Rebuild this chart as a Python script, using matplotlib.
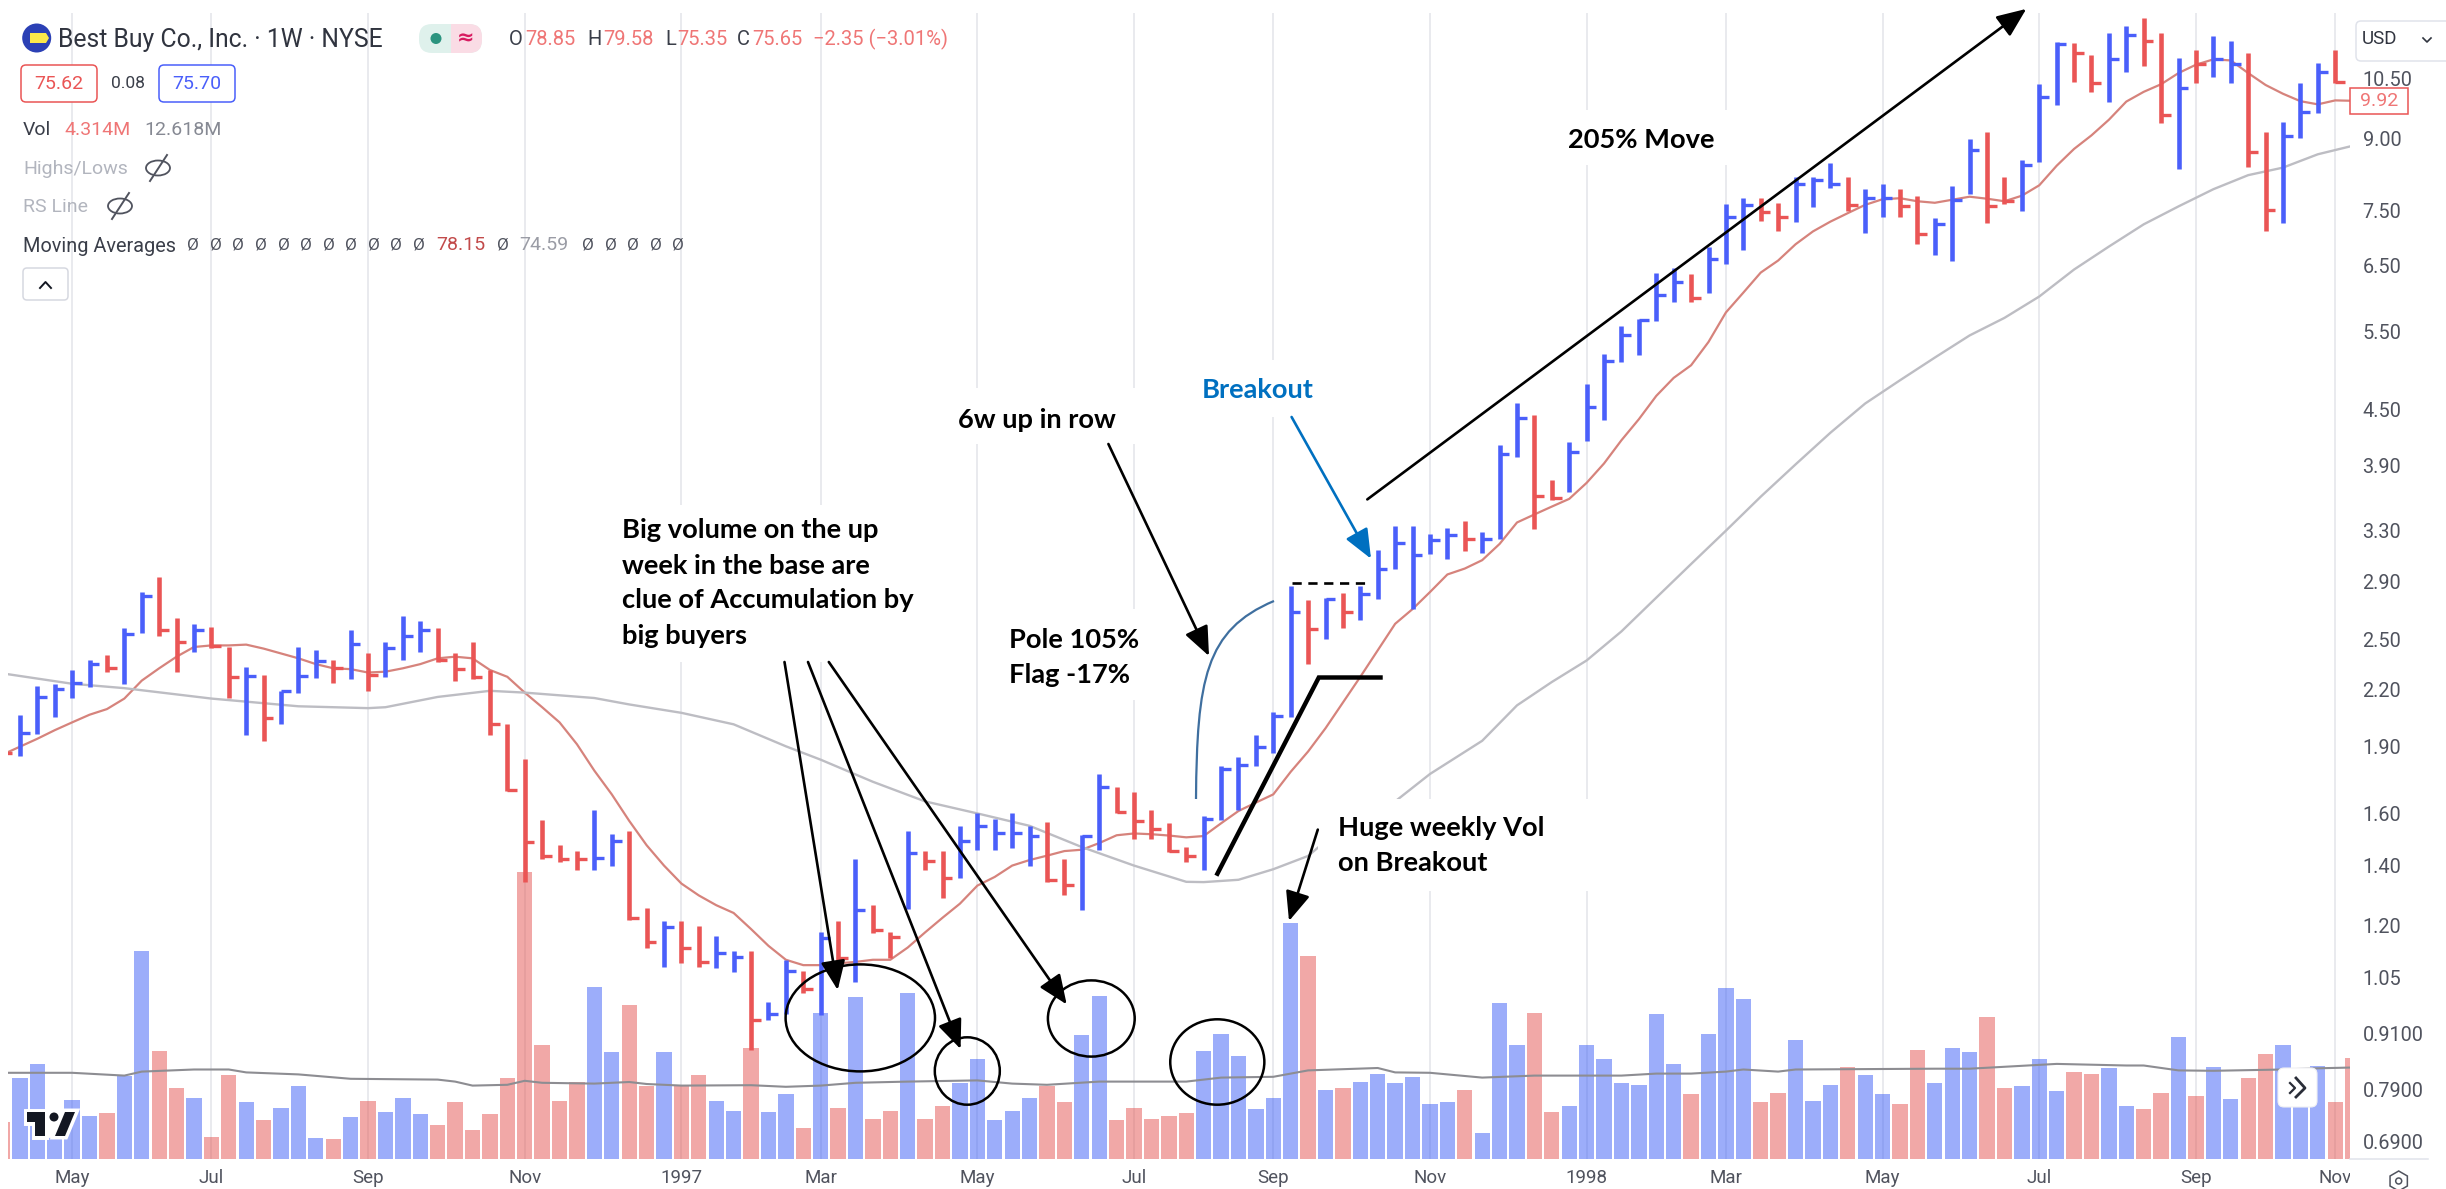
import numpy as np
import matplotlib
matplotlib.use("Agg")
import matplotlib.pyplot as plt
from matplotlib.patches import Ellipse, FancyBboxPatch, PathPatch, Polygon, Rectangle, RegularPolygon, Circle
from matplotlib.path import Path

plt.rcParams["font.family"] = ["Roboto", "DejaVu Sans"]

# Weekly HLC bars, first entry is the clipped bar left of May 1996
high = [1.90,
        2.06, 2.22, 2.23, 2.31, 2.37, 2.40, 2.57, 2.82, 2.93, 2.64,
        2.60, 2.58, 2.45, 2.33, 2.28, 2.19, 2.45, 2.43, 2.37, 2.56,
        2.41, 2.48, 2.65, 2.62, 2.57, 2.41, 2.48, 2.31, 2.01, 1.84,
        1.575, 1.475, 1.453, 1.616, 1.516, 1.528, 1.255, 1.216, 1.216, 1.198,
        1.17, 1.126, 1.126, .988, 1.10, 1.07, 1.182, 1.216, 1.422, 1.267,
        1.182, 1.531, 1.453, 1.453, 1.55, 1.60, 1.577, 1.60, 1.55, 1.565,
        1.422, 1.513, 1.768, 1.714, 1.691, 1.616, 1.56, 1.468, 1.589, 1.806,
        1.848, 1.955, 2.075, 2.863, 2.762, 2.776, 2.81, 2.863, 3.14, 3.34,
        3.34, 3.27, 3.32, 3.38, 3.29, 4.11, 4.58, 4.44, 3.76, 4.14,
        4.81, 5.19, 5.57, 5.67, 6.39, 6.47, 6.37, 6.82, 7.61, 7.74,
        7.74, 7.64, 8.17, 8.17, 8.45, 8.17, 7.92, 8.01, 7.92, 7.78,
        7.35, 7.98, 9.00, 9.15, 8.16, 8.52, 10.35, 11.53, 11.49, 11.14,
        11.81, 12.01, 12.27, 11.81, 11.06, 11.30, 11.72, 11.57, 11.22, 9.15,
        9.40, 10.38, 10.92, 11.30]
low = [1.85,
       1.852, 1.961, 2.05, 2.151, 2.213, 2.30, 2.23, 2.542, 2.52, 2.30,
       2.416, 2.446, 2.151, 1.957, 1.927, 2.01, 2.18, 2.264, 2.237, 2.26,
       2.19, 2.271, 2.367, 2.416, 2.355, 2.243, 2.26, 1.957, 1.696, 1.344,
       1.422, 1.412, 1.385, 1.385, 1.40, 1.217, 1.135, 1.08, 1.092, 1.08,
       1.078, 1.067, .873, .943, .957, 1.01, .954, 1.094, 1.04, 1.178,
       1.104, 1.253, 1.385, 1.29, 1.355, 1.456, 1.456, 1.466, 1.40, 1.344,
       1.298, 1.25, 1.456, 1.60, 1.50, 1.50, 1.45, 1.412, 1.385, 1.572,
       1.616, 1.808, 1.866, 2.05, 2.347, 2.50, 2.573, 2.624, 2.77, 2.995,
       2.70, 3.105, 3.07, 3.13, 3.115, 3.23, 3.98, 3.31, 3.57, 3.64,
       4.15, 4.38, 5.08, 5.17, 5.65, 5.93, 5.93, 6.07, 6.53, 6.77,
       7.29, 7.11, 7.27, 7.55, 7.94, 7.48, 7.08, 7.36, 7.36, 6.87,
       6.68, 6.59, 7.82, 7.25, 7.61, 7.48, 8.48, 9.82, 10.40, 10.15,
       9.90, 10.67, 10.84, 9.36, 8.33, 10.38, 10.54, 10.38, 8.37, 7.10,
       7.25, 9.03, 9.61, 10.38]
close = [1.87,
         1.968, 2.153, 2.198, 2.237, 2.347, 2.323, 2.533, 2.795, 2.556, 2.482,
         2.556, 2.454, 2.271, 2.276, 2.044, 2.19, 2.276, 2.362, 2.323, 2.467,
         2.28, 2.446, 2.52, 2.556, 2.367, 2.314, 2.271, 2.01, 1.70, 1.486,
         1.436, 1.422, 1.422, 1.426, 1.49, 1.225, 1.152, 1.195, 1.135, 1.094,
         1.12, 1.107, .943, .957, 1.07, 1.02, 1.164, 1.104, 1.25, 1.186,
         1.165, 1.445, 1.415, 1.355, 1.49, 1.55, 1.523, 1.523, 1.51, 1.35,
         1.332, 1.51, 1.714, 1.605, 1.569, 1.537, 1.453, 1.436, 1.577, 1.793,
         1.811, 1.896, 2.055, 2.682, 2.567, 2.77, 2.682, 2.807, 2.995, 3.195,
         3.10, 3.225, 3.26, 3.23, 3.23, 4.02, 4.40, 3.61, 3.59, 4.04,
         4.53, 5.09, 5.44, 5.66, 6.03, 6.24, 5.98, 6.62, 7.36, 7.60,
         7.47, 7.36, 8.01, 8.09, 8.02, 7.60, 7.73, 7.73, 7.58, 7.06,
         7.23, 7.70, 8.75, 7.58, 7.67, 8.41, 10.01, 11.46, 11.21, 10.38,
         11.04, 11.74, 11.57, 9.57, 10.26, 10.91, 11.04, 10.89, 8.69, 7.50,
         9.06, 9.65, 10.68, 10.42]
# weeks drawn red, the rest are blue
down_weeks = [-1, 5, 8, 9, 11, 12, 14, 18, 20, 24, 25, 26, 27, 28, 29, 30, 31, 32, 35, 36,
              38, 39, 42, 45, 47, 49, 50, 52, 53, 59, 60, 63, 64, 65, 66, 67, 74, 76, 83,
              87, 88, 96, 100, 101, 105, 108, 109, 113, 114, 118, 119, 122, 123, 125,
              128, 129, 133, 134]

volume = [3.7,
          8.06, 9.55, 3.3, 5.94, 4.33, 4.65, 8.34, 20.8, 10.83, 7.14,
          6.14, 2.25, 8.42, 5.66, 3.93, 5.13, 7.26, 2.13, 2.0, 4.21,
          5.82, 4.69, 6.14, 4.53, 3.41, 5.66, 2.93, 4.53, 8.06, 28.7,
          11.43, 5.82, 7.74, 17.25, 10.67, 15.36, 7.26, 10.67, 7.26, 8.42,
          5.82, 4.85, 11.07, 4.69, 6.46, 3.09, 14.64, 5.13, 16.17, 4.05,
          4.85, 16.65, 4.05, 5.33, 7.62, 10.03, 3.89, 4.85, 6.14, 7.34,
          5.66, 12.43, 16.29, 3.89, 5.13, 4.05, 4.33, 4.65, 10.83, 12.55,
          10.35, 5.01, 6.14, 23.59, 20.3, 6.94, 7.1, 7.74, 8.54, 7.58,
          8.22, 5.5, 5.66, 6.94, 2.61, 15.64, 11.43, 14.64, 4.69, 5.33,
          11.43, 10.03, 7.58, 7.42, 14.52, 9.55, 6.46, 12.55, 17.09, 15.96,
          5.66, 6.62, 11.95, 5.82, 7.42, 9.23, 8.42, 6.46, 5.5, 10.95,
          7.58, 11.15, 10.67, 14.2, 7.1, 7.26, 10.03, 6.78, 8.74, 8.54,
          9.07, 5.33, 5.01, 6.62, 12.23, 6.3, 9.23, 5.98, 8.06, 10.51,
          11.43, 8.5, 9.35, 5.66, 10.15]

# Moving averages
ma_fast = [1.86,
           1.898, 1.937, 1.98, 2.02, 2.06, 2.09, 2.147, 2.248, 2.32, 2.39,
           2.45, 2.46, 2.46, 2.465, 2.44, 2.41, 2.38, 2.345, 2.32, 2.315,
           2.295, 2.30, 2.32, 2.345, 2.38, 2.39, 2.38, 2.31, 2.27, 2.18,
           2.10, 2.02, 1.91, 1.785, 1.68, 1.57, 1.475, 1.40, 1.337, 1.297,
           1.265, 1.24, 1.19, 1.14, 1.10, 1.085, 1.085, 1.09, 1.094, 1.10,
           1.10, 1.135, 1.18, 1.225, 1.27, 1.33, 1.36, 1.40, 1.42, 1.436,
           1.453, 1.458, 1.483, 1.513, 1.52, 1.517, 1.512, 1.505, 1.51, 1.56,
           1.61, 1.645, 1.68, 1.78, 1.875, 1.99, 2.125, 2.27, 2.43, 2.60,
           2.70, 2.82, 2.95, 2.995, 3.06, 3.19, 3.37, 3.44, 3.51, 3.58,
           3.73, 3.92, 4.16, 4.39, 4.66, 4.88, 5.04, 5.35, 5.77, 6.07,
           6.39, 6.59, 6.87, 7.10, 7.28, 7.44, 7.60, 7.71, 7.73, 7.67,
           7.64, 7.70, 7.76, 7.72, 7.67, 7.78, 7.99, 8.40, 8.77, 9.08,
           9.45, 9.90, 10.15, 10.35, 10.65, 10.88, 11.03, 11.0, 10.65, 10.33,
           10.10, 9.91, 9.83, 9.93, 9.92]
ma_slow_weeks = [-1, 3, 6, 11, 16, 20, 21, 24, 27, 29, 33, 35, 38, 41, 44, 46, 49, 52, 55, 58,
                 61, 64, 67, 68, 70, 72, 74, 75, 77, 79, 81, 84, 86, 88, 90, 92, 94, 96, 98,
                 100, 102, 104, 106, 108, 110, 112, 114, 116, 118, 120, 122, 124, 126, 128,
                 130, 132, 134]
ma_slow = [2.29, 2.23, 2.205, 2.147, 2.105, 2.095, 2.10, 2.156, 2.19, 2.18, 2.15, 2.115, 2.07,
           2.01, 1.90, 1.836, 1.735, 1.65, 1.60, 1.55, 1.468, 1.40, 1.343, 1.342, 1.35, 1.387,
           1.435, 1.49, 1.57, 1.65, 1.77, 1.927, 2.11, 2.24, 2.367, 2.55, 2.78, 3.03, 3.30, 3.60,
           3.91, 4.24, 4.57, 4.85, 5.14, 5.44, 5.69, 6.01, 6.44, 6.83, 7.23, 7.57, 7.91, 8.20,
           8.36, 8.65, 8.84]
vol_ma_weeks = [-1, 3, 6, 7, 10, 12, 13, 16, 19, 24, 25, 26, 28, 29, 30, 33, 35, 36, 38, 42, 44,
                46, 48, 51, 55, 57, 59, 62, 67, 69, 72, 74, 78, 79, 81, 84, 87, 90, 92, 94, 96,
                98, 99, 101, 102, 110, 112, 117, 121, 122, 124, 126, 130, 132, 134]
vol_ma = [8.62, 8.62, 8.34, 8.74, 8.95, 8.95, 8.66, 8.46, 8.02, 7.94, 7.74, 7.34, 7.42, 7.82,
          7.62, 7.54, 7.7, 7.5, 7.34, 7.38, 7.22, 7.34, 7.62, 7.74, 7.86, 7.54, 7.42, 7.74, 7.74,
          8.14, 8.22, 8.86, 9.1, 8.66, 8.62, 8.14, 8.34, 8.34, 8.34, 8.54, 8.54, 8.74, 8.95, 8.74,
          8.95, 9.03, 9.03, 9.51, 9.35, 9.35, 8.86, 8.82, 8.95, 9.07, 9.15]

# Axis ticks
price_ticks = [10.5, 9.0, 7.5, 6.5, 5.5, 4.5, 3.9, 3.3, 2.9, 2.5, 2.2, 1.9, 1.6, 1.4, 1.2, 1.05, .91, .79, .69]
price_labels = ["10.50", "9.00", "7.50", "6.50", "5.50", "4.50", "3.90", "3.30", "2.90", "2.50", "2.20",
                "1.90", "1.60", "1.40", "1.20", "1.05", "0.9100", "0.7900", "0.6900"]
month_weeks = [3, 11, 20, 29, 38, 46, 55, 64, 72, 81, 90, 98, 107, 116, 125, 133]
month_labels = ["May", "Jul", "Sep", "Nov", "1997", "Mar", "May", "Jul", "Sep", "Nov", "1998",
                "Mar", "May", "Jul", "Sep", "Nov"]

BLUE = "#4a5ffa"
RED = "#ea5555"
SOFT_RED = "#ef7676"
W, H = 2446, 1189
DARK = "#3a3e49"

weeks = np.arange(len(high)) - 1
vol_weeks = np.arange(len(volume)) - 1
bar_col = [RED if w in down_weeks else BLUE for w in weeks]
vol_col = ["#e55350" if w in down_weeks else "#3a5df6" for w in vol_weeks]

fig = plt.figure(figsize=(W / 100, H / 100), dpi=100, facecolor="white")
rect = [8 / W, 30 / H, 2342 / W, 1146 / H]
xlim = (-0.6835, 133.85)

# Volume pane sits under the price pane
ax_vol = fig.add_axes(rect, zorder=1)
ax_vol.set_xlim(xlim)
ax_vol.set_ylim(0, 114.6)
ax_vol.axis("off")
for w in month_weeks:
    ax_vol.axvline(w, color="#e3e4e9", lw=1.1, zorder=0)
ax_vol.bar(vol_weeks, volume, width=0.88, color=vol_col, alpha=0.5, zorder=1)
ax_vol.plot(vol_ma_weeks, vol_ma, color="#8d8d92", lw=1.5, zorder=2)

# Price pane
ax = fig.add_axes(rect, zorder=2)
ax.patch.set_alpha(0)
ax.set_xlim(xlim)
ax.set_yscale("log")
ax.set_ylim(0.6605, 12.42)
ax.minorticks_off()
ax.set_yticks(price_ticks, price_labels)
ax.yaxis.set_minor_locator(plt.NullLocator())
ax.yaxis.tick_right()
ax.tick_params(axis="y", length=0, pad=9, labelsize=14.3, labelcolor="#50535e")
ax.set_xticks(month_weeks, month_labels)
ax.tick_params(axis="x", length=0, pad=7.5, labelsize=13.5, labelcolor="#50535e")
for side in ["top", "left", "right", "bottom"]:
    ax.spines[side].set_visible(False)

ax.plot(weeks.tolist() + [134], ma_fast, color="#d6837c", lw=1.6, zorder=2)
ax.plot(ma_slow_weeks, ma_slow, color="#bdbdc3", lw=1.7, zorder=2)
ax.vlines(weeks, low, high, colors=bar_col, lw=3.3, zorder=3, capstyle="butt")
ax.hlines(close, weeks, weeks + 0.56, colors=bar_col, lw=2.4, zorder=3)

# Overlay in pixel coordinates for the hand drawn notes and the chart UI
ov = fig.add_axes([0, 0, 1, 1], zorder=5)
ov.set_xlim(0, W)
ov.set_ylim(H, 0)
ov.axis("off")
ov.patch.set_alpha(0)


def white_box(x0, y0, x1, y1):
    ov.add_patch(Rectangle((x0, y0), x1 - x0, y1 - y0, fc="white", ec="none", zorder=1))


for box in [(615, 505, 925, 662), (1005, 609, 1150, 700), (950, 388, 1140, 444),
            (1190, 360, 1320, 417), (1555, 110, 1735, 165), (1318, 799, 1600, 891),
            (2350, 1165, 2380, 1189)]:
    white_box(*box)


def note(x, y, s, color="black"):
    ov.text(x, y + 1.5, s, family="Lato", weight="bold", fontsize=19.6, color=color, va="center", ha="left",
            zorder=4)


for yy, s in zip([529, 564, 599, 634], ["Big volume on the up", "week in the base are",
                                        "clue of Accumulation by", "big buyers"]):
    note(622, yy, s)
note(1009, 638, "Pole 105%")
note(1009, 673.5, "Flag -17%")
note(958, 418, "6w up in row")
note(1202, 389, "Breakout", "#0070c0")
note(1568, 138, "205% Move")
note(1337.5, 826.7, "Huge weekly Vol")
note(1337.5, 861.6, "on Breakout")


def arrow(p0, p1, color="black", lw=1.9):
    ov.annotate("", xy=p1, xytext=p0, zorder=3,
                arrowprops=dict(arrowstyle="-|>,head_length=1,head_width=0.42", mutation_scale=18,
                                color=color, lw=lw, shrinkA=0, shrinkB=0))


arrow((784.5, 662), (837.7, 990))
arrow((808, 662), (960.6, 1049))
arrow((828.8, 662), (1066.7, 1004.4))
arrow((1108.4, 444), (1209, 656))
arrow((1367.3, 499.4), (2026.3, 8.9))
arrow((1291.6, 417), (1371, 558.7), "#0070c0")
arrow((1317.8, 829.6), (1289, 921))

ov.add_patch(PathPatch(Path([(1196, 799), (1197, 680), (1205, 630), (1274, 601)],
                            [Path.MOVETO, Path.CURVE4, Path.CURVE4, Path.CURVE4]),
                       fc="none", ec="#3f6f9f", lw=1.6, zorder=3))
ov.plot([1291.6, 1367.5], [583, 583], color="black", lw=1.9, ls=(0, (3.5, 2.5)), zorder=3)
ov.plot([1217.4, 1318.8, 1380.5], [873.7, 677.5, 677.5], color="black", lw=3.2, zorder=3,
        solid_joinstyle="miter")

for cx, cy, ew, eh in [(860.3, 1017.9, 149.4, 107), (967.3, 1071, 65, 67.4),
                       (1091.3, 1018.5, 86.8, 76.2), (1217.3, 1062, 94.1, 85.4)]:
    ov.add_patch(Ellipse((cx, cy), ew, eh, fc="none", ec="black", lw=1.8, zorder=3))

# Header
ov.add_patch(Circle((36.7, 38), 14.5, fc="#2b40b5", ec="none", zorder=3))
ov.add_patch(Polygon([(30, 33), (46, 33), (49, 38), (46, 43), (30, 43)], fc="#fbe84a", ec="none", zorder=4))
ov.text(58, 39.5, "Best Buy Co., Inc. · 1W · NYSE", fontsize=17.8, color="#30343f", va="center", zorder=4)
pill = FancyBboxPatch((431, 24), 39, 29, boxstyle="round,pad=0,rounding_size=12", fc="#dff1ec", ec="none", zorder=3)
pill_l = FancyBboxPatch((419, 24), 63, 29, boxstyle="round,pad=0,rounding_size=13", fc="#dff1ec", ec="none", zorder=3)
ov.add_patch(pill_l)
pill_r = Rectangle((451, 24), 31, 29, fc="#fadce5", ec="none", zorder=3)
ov.add_patch(pill_r)
pill_r.set_clip_path(pill_l)
ov.add_patch(Circle((436, 38.5), 5.5, fc="#2b947f", ec="none", zorder=4))
ov.text(466, 38, "≈", fontsize=15, color="#d81b60", ha="center", va="center", weight="bold", zorder=4,
        family="DejaVu Sans")
for xx, s, c in [(509, "O", DARK), (525, "78.85", SOFT_RED), (587, "H", DARK), (603, "79.58", SOFT_RED),
                 (665, "L", DARK), (677, "75.35", SOFT_RED), (737, "C", DARK), (752, "75.65", SOFT_RED),
                 (813, "−2.35 (−3.01%)", SOFT_RED)]:
    ov.text(xx, 39.5, s, fontsize=14.5, color=c, va="center", zorder=4)

for x0, c, s in [(21, RED, "75.62"), (159, BLUE, "75.70")]:
    ov.add_patch(FancyBboxPatch((x0 + 3, 68), 70, 31, boxstyle="round,pad=3,rounding_size=5",
                                fc="white", ec=c, lw=1.1, zorder=3))
    ov.text(x0 + 38, 84, s, fontsize=14, color=c, ha="center", va="center", zorder=4)
ov.text(127.5, 84, "0.08", fontsize=12.5, color=DARK, ha="center", va="center", zorder=4)
ov.text(23, 130, "Vol", fontsize=14, color=DARK, va="center", zorder=4)
ov.text(64, 130, "4.314M", fontsize=14, color=SOFT_RED, va="center", zorder=4)
ov.text(144, 130, "12.618M", fontsize=14, color="#868993", va="center", zorder=4)
ov.text(23, 169, "Highs/Lows", fontsize=14, color="#b2b5be", va="center", zorder=4)
ov.text(23, 207, "RS Line", fontsize=14, color="#b2b5be", va="center", zorder=4)
for ex, ey in [(158, 168), (120, 206)]:
    ov.add_patch(Ellipse((ex, ey), 24, 15, fc="none", ec="#50535e", lw=1.3, zorder=4))
    ov.plot([ex - 8, ex + 9], [ey + 13, ey - 13], color="#50535e", lw=1.4, zorder=4)
ov.text(23, 246, "Moving Averages", fontsize=14.3, color=DARK, va="center", zorder=4)
for xx in [193, 215.5, 238, 260.5, 283.5, 306, 328.5, 351, 373.5, 396, 419, 502.5, 588, 610.5, 633, 655.5, 678]:
    ov.text(xx, 245, "Ø", fontsize=12.5, color="#50535e", ha="center", va="center", zorder=4)
ov.text(436, 245, "78.15", fontsize=14, color="#c24a4a", va="center", zorder=4)
ov.text(519, 245, "74.59", fontsize=14, color="#9a9ca5", va="center", zorder=4)
ov.add_patch(FancyBboxPatch((26, 271), 39, 26, boxstyle="round,pad=3,rounding_size=4",
                            fc="white", ec="#d6d8e0", lw=1.1, zorder=3))
ov.plot([40, 45.5, 51], [288, 282, 288], color="#131722", lw=1.4, zorder=4)

# Right hand price scale extras
ov.add_patch(FancyBboxPatch((2359, 24), 90, 34, boxstyle="round,pad=3,rounding_size=5",
                            fc="white", ec="#e0e3eb", lw=1.1, zorder=3, clip_on=False))
ov.text(2362, 39, "USD", fontsize=13.5, color="#30343f", va="center", zorder=4)
ov.plot([2423, 2427, 2431], [38, 42, 38], color="#30343f", lw=1.2, zorder=4)
ov.add_patch(Rectangle((2349.5, 87.5), 58.5, 26, fc="white", ec=RED, lw=1.1, zorder=3))
ov.text(2379, 100.5, "9.92", fontsize=14, color=SOFT_RED, ha="center", va="center", zorder=4)
ov.plot([2350, 2428], [1159, 1159], color="#e0e3eb", lw=1.1, zorder=3)

# Scroll button, TV logo and settings icon
ov.add_patch(FancyBboxPatch((2282, 1072), 31, 31, boxstyle="round,pad=4,rounding_size=6",
                            fc="white", ec="#f0f0f3", lw=0.8, zorder=3))
ov.plot([2290, 2295, 2290], [1083, 1088, 1093], color="#2a2e39", lw=1.6, zorder=4)
ov.plot([2296, 2305, 2296], [1078, 1088, 1097], color="#2a2e39", lw=2.0, zorder=4)
tv_t = [(27, 1112), (45, 1112), (45, 1136), (35, 1136), (35, 1122), (27, 1122)]
tv_v = [(65, 1112), (75, 1112), (65, 1136), (55, 1136)]
for pts in [tv_t, tv_v]:
    ov.add_patch(Polygon(pts, fc="white", ec="white", lw=5, zorder=4))
ov.add_patch(Circle((54, 1117), 4.5, fc="white", ec="white", lw=5, zorder=4))
ov.add_patch(Rectangle((45, 1124), 12, 12, fc="white", ec="white", lw=2, zorder=4))
for pts in [tv_t, tv_v]:
    ov.add_patch(Polygon(pts, fc="#131722", ec="none", zorder=4.5))
ov.add_patch(Circle((54, 1117), 4.5, fc="#131722", ec="none", zorder=4.5))
ov.add_patch(RegularPolygon((2398.7, 1181), 6, radius=10, fc="none", ec="#50535e", lw=1.1, zorder=4))
ov.add_patch(Circle((2398.7, 1181), 3, fc="none", ec="#50535e", lw=1.1, zorder=4))

fig.savefig("out.png", dpi=100)
